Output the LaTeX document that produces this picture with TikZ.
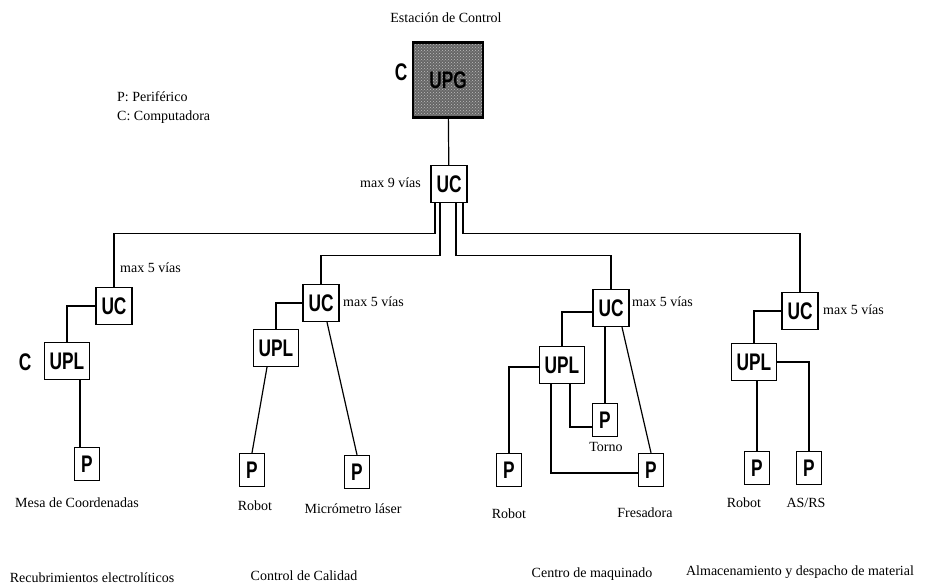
\documentclass[tikz,border=0pt]{standalone}
\usepackage{fontspec}
\setmainfont{Liberation Serif}
\newfontfamily\boxfont[FakeStretch=0.72]{Liberation Sans}
\usepackage{tikz}
\usetikzlibrary{calc,patterns}

\tikzset{
  lbl/.style={font=\fontsize{14}{16}\selectfont, inner sep=0pt},
  unitbox/.style={draw, line width=1.3pt, inner sep=0pt, fill=white,
    font=\boxfont\bfseries\fontsize{24}{24}\selectfont},
  ucbox/.style={unitbox, minimum width=36pt, minimum height=37pt},
  uplbox/.style={unitbox, minimum width=45pt, minimum height=37pt},
  pbox/.style={unitbox, minimum width=25pt, minimum height=33pt},
  link/.style={line width=1.2pt}
}

\begin{document}
\begin{tikzpicture}[x=1pt,y=-1pt]
    \useasboundingbox (0,0) rectangle (926,586);
    % estacion de control
    \node[lbl] (est) at (446,18) {Estación de Control};
    \node[unitbox, line width=2.6pt, minimum width=70pt, minimum height=75pt,
      preaction={fill=black!60}, pattern=crosshatch dots, pattern color=black!25] (upg) at (448,80) {UPG};
    \node[unitbox, draw=none, fill=none] (cupg) at (401,72) {C};
    \node[lbl, anchor=west] (leyp) at (117,97) {P: Periférico};
    \node[lbl, anchor=west] (leyc) at (117,117) {C: Computadora};
    \node[ucbox] (uc0) at (449,184) {UC};
    \node[lbl, anchor=east] (v0) at (421,183) {max 9 vías};
    \draw[link] (upg) -- (uc0);

    % recubrimientos
    \node[ucbox] (uc1) at (114,306) {UC};
    \node[lbl, anchor=west] (v1) at (120,268) {max 5 vías};
    \node[uplbox] (upl1) at (67,361) {UPL};
    \node[unitbox, draw=none, fill=none] (cupl) at (25,362) {C};
    \node[pbox] (p1) at (87,464) {P};
    \node[lbl] (mesa) at (77,503) {Mesa de Coordenadas};
    \node[lbl] (rec) at (92,578) {Recubrimientos electrolíticos};
    \draw[link] ([xshift=-14pt]uc0.south) -- ++(0,30) -| (uc1.north);
    \draw[link] (uc1.west) -| (upl1.north);
    \draw[link] ([xshift=13pt]upl1.south) -- ([xshift=-7pt]p1.north);

    % control de calidad
    \node[ucbox] (uc2) at (321,303) {UC};
    \node[lbl, anchor=west] (v2) at (343,302) {max 5 vías};
    \node[uplbox] (upl2) at (276,348) {UPL};
    \node[pbox] (p2a) at (252,470) {P};
    \node[pbox] (p2b) at (357,472) {P};
    \node[lbl] (rob2) at (255,506) {Robot};
    \node[lbl] (mic) at (353,509) {Micrómetro láser};
    \node[lbl] (cal) at (304,576) {Control de Calidad};
    \draw[link] ([xshift=-9pt]uc0.south) -- ++(0,52) -| (uc2.north);
    \draw[link] (uc2.west) -| (upl2.north);
    \draw[link] ([xshift=-9pt]upl2.south) -- (p2a.north);
    \draw[link] ([xshift=6pt]uc2.south) -- (p2b.north);

    % centro de maquinado
    \node[ucbox] (uc3) at (611,308) {UC};
    \node[lbl, anchor=west] (v3) at (632,302) {max 5 vías};
    \node[uplbox] (upl3) at (562,365) {UPL};
    \node[pbox] (p3a) at (509,470) {P};
    \node[pbox] (p3b) at (605,420) {P};
    \node[pbox] (p3c) at (651,470) {P};
    \node[lbl] (rob3) at (509,514) {Robot};
    \node[lbl] (tor) at (606,447) {Torno};
    \node[lbl] (fre) at (645,513) {Fresadora};
    \node[lbl] (maq) at (592,574) {Centro de maquinado};
    \draw[link] ([xshift=7pt]uc0.south) -- ++(0,52) -| (uc3.north);
    \draw[link] ([yshift=-4pt]uc3.west) -| (upl3.north);
    \draw[link] ([yshift=-2pt]upl3.west) -| (p3a.north);
    \draw[link] ([xshift=8pt]upl3.south) |- ([yshift=-7pt]p3b.west);
    \draw[link] ([xshift=-11pt]upl3.south) |- ([yshift=-3pt]p3c.west);
    \draw[link] ([xshift=-6pt]uc3.south) -- (p3b.north);
    \draw[link] ([xshift=11pt]uc3.south) -- (p3c.north);

    % almacenamiento
    \node[ucbox] (uc4) at (800,311) {UC};
    \node[lbl, anchor=west] (v4) at (823,310) {max 5 vías};
    \node[uplbox] (upl4) at (754,362) {UPL};
    \node[pbox] (p4a) at (757,468) {P};
    \node[pbox] (p4b) at (809,468) {P};
    \node[lbl] (rob4) at (744,503) {Robot};
    \node[lbl] (asrs) at (806,503) {AS/RS};
    \node[lbl] (alm) at (800,572) {Almacenamiento y despacho de material};
    \draw[link] ([xshift=14pt]uc0.south) -- ++(0,30) -| (uc4.north);
    \draw[link] (uc4.west) -| (upl4.north);
    \draw[link] (p4a.north |- upl4.south) -- (p4a.north);
    \draw[link] (upl4.east) -| (p4b.north);
\end{tikzpicture}
\end{document}
